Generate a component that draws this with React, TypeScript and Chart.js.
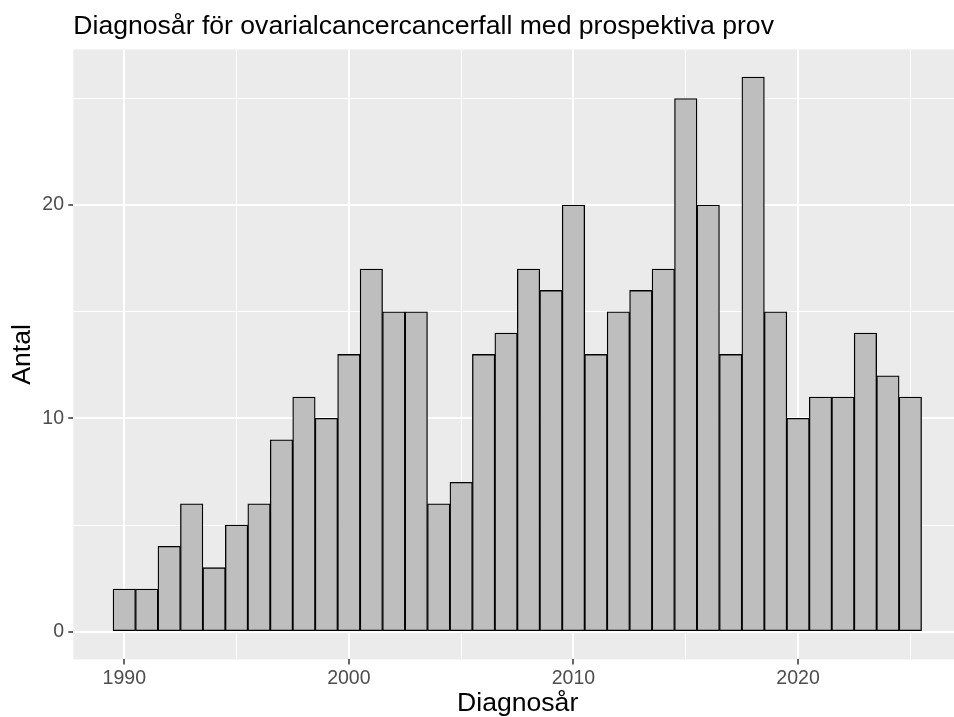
import React, { useEffect, useRef } from "react";
import { Chart, registerables } from "chart.js";

Chart.register(...registerables);

const years: number[] = [
  1990, 1991, 1992, 1993, 1994, 1995, 1996, 1997, 1998, 1999,
  2000, 2001, 2002, 2003, 2004, 2005, 2006, 2007, 2008, 2009,
  2010, 2011, 2012, 2013, 2014, 2015, 2016, 2017, 2018, 2019,
  2020, 2021, 2022, 2023, 2024, 2025,
];
const counts: number[] = [
  2, 2, 4, 6, 3, 5, 6, 9, 11, 10,
  13, 17, 15, 15, 6, 7, 13, 14, 17, 16,
  20, 13, 15, 16, 17, 25, 20, 13, 26, 15,
  10, 11, 11, 14, 12, 11,
];
const xBreaks: number[] = [1990, 1995, 2000, 2005, 2010, 2015, 2020, 2025];
const xLabelled: number[] = [1990, 2000, 2010, 2020];
const yBreaks: number[] = [0, 5, 10, 15, 20, 25];
const yLabelled: number[] = [0, 10, 20];

const titleText = "Diagnosår för ovarialcancercancerfall med prospektiva prov";
const xTitle = "Diagnosår";
const yTitle = "Antal";

const FONT = "'Liberation Sans', Arial, sans-serif";

const panelBg = {
  id: "panelBg",
  beforeDraw(chart: any) {
    const { ctx, chartArea } = chart;
    ctx.save();
    ctx.fillStyle = "#EBEBEB";
    ctx.fillRect(chartArea.left, chartArea.top, chartArea.right - chartArea.left, chartArea.bottom - chartArea.top);
    ctx.restore();
  },
};

export default function App() {
  const ref = useRef<HTMLCanvasElement | null>(null);

  useEffect(() => {
    if (!ref.current) return;
    const data = years.map((y, i) => ({ x: y, y: counts[i] }));
    const chart = new Chart(ref.current, {
      type: "bar",
      data: {
        datasets: [
          {
            data: data as any,
            backgroundColor: "#BEBEBE",
            borderColor: "#000000",
            borderWidth: 1.3,
            borderSkipped: false,
            barPercentage: 1,
            categoryPercentage: 1,
          },
        ],
      },
      options: {
        animation: false,
        responsive: false,
        devicePixelRatio: 1,
        layout: { padding: 0 },
        plugins: {
          legend: { display: false },
          tooltip: { enabled: false },
          title: {
            display: true,
            text: titleText,
            align: "start",
            fullSize: false,
            color: "#000000",
            font: { family: FONT, size: 26.6, weight: "normal", lineHeight: 1.2 },
            padding: { top: 10.7, bottom: 6.8 },
          },
        },
        scales: {
          x: {
            type: "linear",
            offset: false,
            min: 1987.73,
            max: 2027.3,
            afterBuildTicks: (s: any) => {
              s.ticks = xBreaks.map((v) => ({ value: v }));
            },
            afterFit: (s: any) => {
              s.height = 57.6;
            },
            border: { display: false },
            grid: {
              offset: false,
              color: "#FFFFFF",
              lineWidth: (c: any) => (xLabelled.includes(c.tick?.value) ? 2 : 1),
              drawTicks: true,
              tickLength: 5,
              tickColor: (c: any) => (xLabelled.includes(c.tick?.value) ? "#333333" : "rgba(0,0,0,0)"),
              tickWidth: 1.5,
            },
            ticks: {
              autoSkip: false,
              maxRotation: 0,
              padding: 2.1,
              color: "#4D4D4D",
              font: { family: FONT, size: 19.5 },
              callback: (v: any) => (xLabelled.includes(Number(v)) ? String(v) : ""),
            },
            title: {
              display: true,
              text: xTitle,
              color: "#000000",
              font: { family: FONT, size: 26.6, lineHeight: 1 },
              padding: { top: 0, bottom: 0 },
            },
          },
          y: {
            type: "linear",
            min: -1.3,
            max: 27.3,
            afterBuildTicks: (s: any) => {
              s.ticks = yBreaks.map((v) => ({ value: v }));
            },
            afterFit: (s: any) => {
              s.width = 73.3;
            },
            border: { display: false },
            grid: {
              color: "#FFFFFF",
              lineWidth: (c: any) => (yLabelled.includes(c.tick?.value) ? 2 : 1),
              drawTicks: true,
              tickLength: 5,
              tickColor: (c: any) => (yLabelled.includes(c.tick?.value) ? "#333333" : "rgba(0,0,0,0)"),
              tickWidth: 1.5,
            },
            ticks: {
              autoSkip: false,
              padding: 4.3,
              color: "#4D4D4D",
              font: { family: FONT, size: 19.5 },
              callback: (v: any) => (yLabelled.includes(Number(v)) ? String(v) : ""),
            },
            title: {
              display: true,
              text: yTitle,
              color: "#000000",
              font: { family: FONT, size: 26.6, lineHeight: 1 },
              padding: { top: 9.7, bottom: 0 },
            },
          },
        },
      },
      plugins: [panelBg],
    });
    return () => chart.destroy();
  }, []);

  return (
    <div style={{ position: "fixed", left: 0, top: 0, width: 954, height: 717, overflow: "hidden", background: "#FFFFFF" }}>
      <canvas ref={ref} width={962} height={717} style={{ width: 962, height: 717, display: "block" }} />
    </div>
  );
}
